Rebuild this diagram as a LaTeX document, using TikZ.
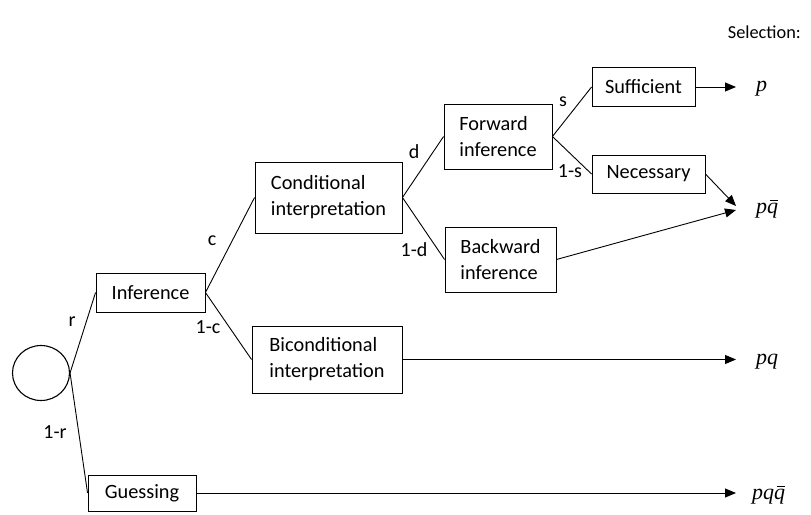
\documentclass[tikz,border=0pt]{standalone}
\usepackage{fontspec}
\setmainfont{Carlito}
\newfontfamily\resfont{Liberation Serif}
\newcommand\qbr{\leavevmode\rlap{\hspace{0.12em}\rule[0.54em]{0.36em}{0.055em}}q}
\usetikzlibrary{arrows.meta,shapes.geometric}
\begin{document}
\begin{tikzpicture}[x=1pt,y=-1pt,
  box/.style={draw,line width=0.9pt,align=left,inner sep=0pt,font=\fontsize{20.3}{26}\selectfont},
  lab/.style={font=\fontsize{20}{22}\selectfont,inner sep=0pt},
  res/.style={font=\resfont\itshape\fontsize{22}{24}\selectfont,inner sep=0pt,anchor=west},
  con/.style={line width=0.9pt},
  arr/.style={line width=0.9pt,-{Triangle[length=11pt,width=9pt]}}]
\useasboundingbox (0,0) rectangle (811,514);
\node[draw,line width=1.1pt,minimum width=57pt,minimum height=55pt,ellipse,inner sep=0pt] (root) at (41,373) {};
\node[box,minimum width=109pt,minimum height=39pt] (inf) at (150.5,292.5) {Inference};
\node[box,minimum width=108pt,minimum height=36pt] (gue) at (142,493) {Guessing};
\node[box,minimum width=147pt,minimum height=71pt] (cond) at (328.5,197.5) {Conditional\\interpretation};
\node[box,minimum width=150pt,minimum height=67pt] (bicond) at (327,359.5) {Biconditional\\interpretation};
\node[box,minimum width=108pt,minimum height=65pt] (fwd) at (498,136.5) {Forward\\inference};
\node[box,minimum width=111pt,minimum height=65pt] (bwd) at (500.5,259.5) {Backward\\inference};
\node[box,minimum width=103pt,minimum height=39pt] (suf) at (643.5,87) {Sufficient};
\node[box,minimum width=113pt,minimum height=38pt] (nec) at (648.5,174) {Necessary};
\coordinate (tp) at (736,87);
\coordinate (tpq1) at (736,206);
\coordinate (tpq2) at (736,210);
\coordinate (tpq) at (736,359.5);
\coordinate (tpqq) at (736,493);
\node[res] (rp) at (756,89) {p};
\node[res] (rpqb) at (756,209) {p\qbr};
\node[res] (rpq) at (756,362) {pq};
\node[res] (rpqq) at (752,495) {pq\qbr};
\node[font=\fontsize{18.3}{20}\selectfont,inner sep=0pt,anchor=east] (sel) at (801,32) {Selection:};
% labels
\node[lab] (lr) at (72,322) {r};
\node[lab] (l1r) at (55,432) {1-r};
\node[lab] (lc) at (212,241) {c};
\node[lab] (l1c) at (208,327) {1-c};
\node[lab] (ld) at (414,152) {d};
\node[lab] (l1d) at (414,250) {1-d};
\node[lab] (ls) at (563,102) {s};
\node[lab] (l1s) at (570,171) {1-s};
% connectors
\draw[con] (root.east) -- (inf.west);
\draw[con] (root.east) -- (gue.west);
\draw[con] (inf.east) -- (cond.west);
\draw[con] (inf.east) -- (bicond.west);
\draw[con] (cond.east) -- (fwd.west);
\draw[con] (cond.east) -- (bwd.west);
\draw[con] (fwd.east) -- (suf.west);
\draw[con] (fwd.east) -- (nec.west);
\draw[arr] (suf.east) -- (tp);
\draw[arr] (nec.east) -- (tpq1);
\draw[arr] (bwd.east) -- (tpq2);
\draw[arr] (bicond.east) -- (tpq);
\draw[arr] (gue.east) -- (tpqq);
\end{tikzpicture}
\end{document}
